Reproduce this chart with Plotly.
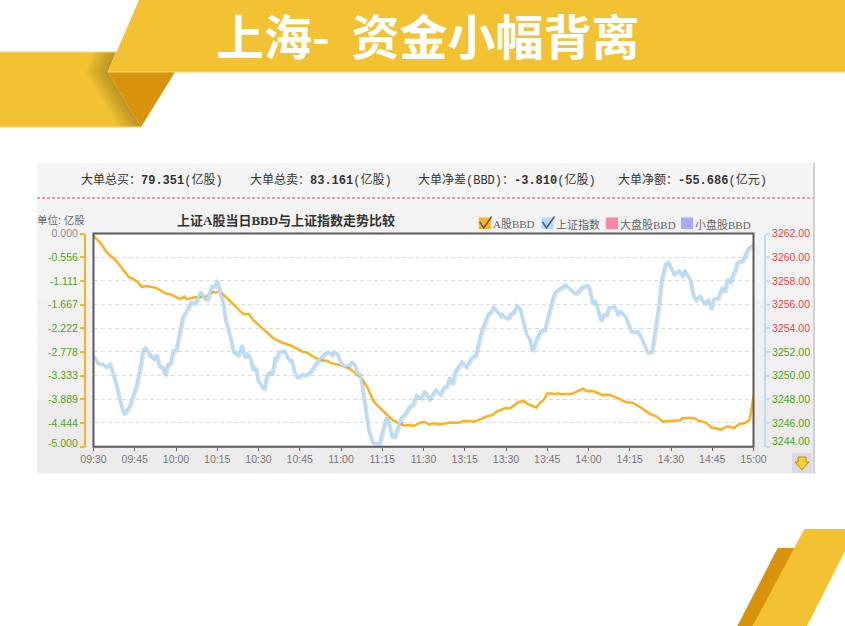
import plotly.graph_objects as go

W, H = 845, 626

# ---------- data ----------
x_tick_minutes = list(range(0, 241, 15))
x_tick_labels = ["09:30", "09:45", "10:00", "10:15", "10:30", "10:45", "11:00", "11:15", "11:30",
                 "13:15", "13:30", "13:45", "14:00", "14:15", "14:30", "14:45", "15:00"]
bbd_ticks = [0.0, -0.556, -1.111, -1.667, -2.222, -2.778, -3.333, -3.889, -4.444, -5.0]
index_ticks = [3262, 3260, 3258, 3256, 3254, 3252, 3250, 3248, 3246, 3244]

index_minutes = [0, 1.5, 3.5, 4.5, 6, 7.5, 8.5, 9.5, 11, 13, 14, 15.5, 17, 18, 19, 20.5, 21, 22, 23, 24, 25, 26, 27, 28,
                 29, 30, 31.5, 32.5, 34, 35.5, 37, 39, 40.5, 41.5, 43, 44, 45, 46, 47, 48, 49.5, 51, 51.5, 52.5, 54,
                 55, 56, 57, 58, 59, 59.7, 61, 62, 63, 64, 65, 66, 66.5, 67.5, 69.5, 71, 72, 73, 74, 75, 76, 77, 79,
                 80.5, 82.5, 84.5, 85.5, 86.5, 87.5, 88.5, 90, 91.5, 93, 94, 95, 96, 97, 98, 99, 100, 101.5, 102.5,
                 104, 105, 106.5, 107.5, 108.5, 109.5, 111, 112, 113, 115, 116, 117.5, 119, 120.5, 122, 124.5, 126,
                 127.5, 128.5, 129.5, 130.5, 131.5, 134, 135.5, 137.5, 139, 141, 142, 143.5, 144.5, 145.5, 146.5, 148,
                 148.5, 150, 151, 151.5, 152.5, 154, 155, 157, 157.5, 158.5, 159.5, 161, 162.5, 164, 165.5, 167, 168,
                 170, 171.5, 173, 175, 176, 177.5, 179, 180, 181.5, 182.5, 184.5, 185.5, 186.5, 187.5, 189.5, 190.5,
                 191.5, 193.5, 195.5, 198, 199.5, 201.5, 203, 204, 205.5, 206.5, 208, 209, 211, 213, 214, 215, 217,
                 218, 219, 220.5, 222, 223.5, 224.5, 225.5, 227, 228.5, 229.5, 230.5, 231.5, 232.5, 233.5, 234, 236,
                 238, 240]
index_values = [3251.73, 3251.03, 3250.97, 3250.72, 3250.97, 3249.79, 3249.05, 3247.93, 3246.75, 3247.36, 3248.07,
                3249.05, 3250.74, 3252.16, 3252.35, 3251.65, 3251.73, 3251.31, 3251.79, 3250.74, 3250.74, 3250.04,
                3250.95, 3251.03, 3252.10, 3252.16, 3253.85, 3254.97, 3255.54, 3256.19, 3256.10, 3257.08, 3256.44,
                3256.44, 3257.56, 3257.50, 3258.07, 3256.95, 3256.24, 3254.69, 3253.42, 3251.93, 3252.01, 3251.65,
                3252.58, 3251.54, 3251.82, 3251.45, 3250.47, 3250.69, 3249.62, 3249.20, 3248.83, 3249.96, 3250.27,
                3250.19, 3251.45, 3251.37, 3252.01, 3252.07, 3251.31, 3251.31, 3250.32, 3249.85, 3249.90, 3250.13,
                3250.02, 3250.32, 3250.89, 3251.45, 3251.93, 3251.99, 3251.73, 3252.01, 3251.88, 3251.03, 3250.80,
                3250.89, 3251.14, 3250.89, 3250.19, 3250.13, 3248.50, 3246.81, 3245.40, 3244.32, 3244.32, 3244.27,
                3245.25, 3246.47, 3245.90, 3244.83, 3244.83, 3245.82, 3246.47, 3246.66, 3247.42, 3247.51, 3248.35,
                3248.07, 3248.69, 3248.02, 3248.78, 3248.41, 3249.00, 3249.11, 3249.85, 3249.28, 3250.32, 3251.17,
                3250.74, 3251.51, 3251.73, 3253.70, 3254.27, 3255.20, 3255.39, 3255.81, 3255.48, 3255.03, 3255.20,
                3254.83, 3254.89, 3255.20, 3255.26, 3255.90, 3255.68, 3253.99, 3253.42, 3253.14, 3252.10, 3253.00,
                3253.76, 3253.85, 3255.26, 3256.52, 3257.08, 3257.37, 3257.65, 3257.37, 3256.95, 3257.00, 3257.45,
                3257.59, 3257.59, 3256.04, 3256.32, 3254.63, 3255.11, 3255.11, 3255.76, 3255.81, 3255.20, 3255.45,
                3254.97, 3253.70, 3253.70, 3253.00, 3251.96, 3252.01, 3253.70, 3255.81, 3258.07, 3259.40, 3259.57,
                3258.58, 3258.83, 3258.43, 3258.83, 3258.07, 3256.80, 3256.38, 3256.72, 3256.10, 3256.38, 3255.62,
                3256.47, 3256.52, 3257.37, 3257.08, 3258.16, 3257.84, 3258.55, 3258.97, 3259.53, 3259.70, 3260.69,
                3261.09]

bbd_minutes = [0, 2.5, 5, 8, 13, 14, 16, 17.5, 19.5, 23, 26, 28.5, 31.5, 33, 34, 36.5, 39, 40.5, 43, 46, 48, 51, 54.5,
               56.5, 58, 62, 65.5, 68.5, 71.5, 76, 77.5, 80.5, 83.5, 85, 86.5, 90, 93, 96, 97.5, 99.5, 102, 104, 106,
               108.5, 111, 113, 114.5, 116.5, 119, 120.5, 122, 124, 125.5, 129, 130, 132.5, 134.5, 138.5, 141, 143.5,
               145, 146.5, 149.5, 151.5, 154.5, 156.5, 158, 161, 162.5, 163.5, 165, 166.5, 168, 169, 170, 174, 177,
               178, 179.5, 182, 185, 187.5, 191, 193.5, 196, 199, 202.5, 204.5, 207, 209, 210.5, 213.5, 214, 218, 220,
               222.5, 225, 226, 228, 230.5, 233, 234.5, 236.5, 238.5, 239, 240]
bbd_values = [-0.06, -0.22, -0.46, -0.62, -1.03, -1.05, -1.13, -1.25, -1.23, -1.28, -1.40, -1.44, -1.54, -1.48, -1.54,
              -1.50, -1.48, -1.50, -1.38, -1.37, -1.48, -1.68, -1.89, -1.89, -2.02, -2.26, -2.46, -2.56, -2.62, -2.77,
              -2.79, -2.91, -2.98, -2.99, -3.04, -3.09, -3.16, -3.32, -3.40, -3.60, -3.95, -4.08, -4.21, -4.36, -4.45,
              -4.50, -4.49, -4.51, -4.43, -4.42, -4.48, -4.45, -4.48, -4.45, -4.43, -4.44, -4.40, -4.41, -4.34, -4.28,
              -4.26, -4.18, -4.10, -4.10, -3.95, -3.93, -4.00, -4.08, -3.96, -3.92, -3.75, -3.75, -3.77, -3.75, -3.77,
              -3.76, -3.67, -3.64, -3.70, -3.70, -3.79, -3.78, -3.87, -3.95, -3.97, -4.08, -4.24, -4.28, -4.41, -4.40,
              -4.38, -4.38, -4.33, -4.32, -4.39, -4.43, -4.56, -4.56, -4.60, -4.52, -4.56, -4.48, -4.45, -4.38, -4.22,
              -3.81]

summary_items = [("大单总买：", "79.351", "(亿股)"), ("大单总卖：", "83.161", "(亿股)"),
                 ("大单净差(BBD)：", "-3.810", "(亿股)"), ("大单净额：", "-55.686", "(亿元)")]
legend_names = ["A股BBD", "上证指数", "大盘股BBD", "小盘股BBD"]

# ---------- colours ----------
ORANGE = "#ffb11c"
BLUE = "#b6dcf6"
GOLD = "#f2c233"
DARK_GOLD = "#d9920c"
GREEN = "#4ea41e"
RED = "#f0454a"


def fx(p):
    return p / W


def fy(p):
    return 1 - p / H


def poly(points, fill, opacity=1.0, layer="below"):
    d = "M " + " L ".join(f"{fx(a):.5f},{fy(b):.5f}" for a, b in points) + " Z"
    return dict(type="path", xref="paper", yref="paper", path=d, fillcolor=fill,
                line=dict(width=0), opacity=opacity, layer=layer)


def rect(x0, y0, x1, y1, fill, layer="below", line=None):
    return dict(type="rect", xref="paper", yref="paper", x0=fx(x0), x1=fx(x1), y0=fy(y0), y1=fy(y1),
                fillcolor=fill, line=line or dict(width=0), layer=layer)


def seg(points, color, width, dash="solid", layer="below"):
    d = "M " + " L ".join(f"{fx(a):.5f},{fy(b):.5f}" for a, b in points)
    return dict(type="path", xref="paper", yref="paper", path=d, line=dict(color=color, width=width, dash=dash),
                layer=layer)


def label(x, y, text, size, color, family, anchor="left"):
    return dict(xref="paper", yref="paper", x=fx(x), y=fy(y), text=text, showarrow=False, xanchor=anchor,
                yanchor="middle", font=dict(size=size, color=color, family=family), borderpad=0, borderwidth=0)


shapes = []
# banner decorations
shapes.append(poly([(0, 52), (116, 52), (107.8, 72), (141, 127), (0, 127)], GOLD))
for k in range(22, 0, -2):
    shapes.append(poly([(116 - k, 52), (116, 52), (107.8, 72), (141, 127), (141 - k, 127), (107.8 - k, 72)],
                       "#7d5f15", 0.045))
shapes.append(seg([(0, 52), (116, 52)], "#f6d873", 1))
shapes.append(seg([(0, 127), (141, 127)], "#f6d873", 1))
shapes.append(poly([(107.8, 72), (175, 72), (141, 127)], DARK_GOLD))
shapes.append(poly([(139, 0), (845, 0), (845, 72), (107.8, 72)], GOLD))
shapes.append(seg([(107.8, 72), (845, 72)], "#f6d873", 1))
shapes.append(poly([(777.7, 548), (800, 548), (752.7, 626), (737.3, 626)], DARK_GOLD))
shapes.append(poly([(804.3, 529), (845, 529), (845, 551), (807, 626), (752.7, 626)], GOLD))

# chart panel
for y0, y1, c in ((163, 200, "#f5f5f5"), (200, 300, "#f4f3f4"), (300, 400, "#f1eff0"), (400, 473.5, "#eeebed")):
    shapes.append(rect(37, y0, 813, y1, c))
shapes.append(rect(813, 163, 815, 473.5, "#d0d0d0"))
shapes.append(seg([(37, 198), (813, 198)], "#d84a50", 1, dash="3px,2px"))
shapes.append(rect(93.5, 233.5, 753.5, 446.7, "white"))
shapes.append(rect(93.5, 233.5, 753.5, 446.7, "rgba(0,0,0,0)", layer="above", line=dict(color="#5a5a5a", width=2)))

# legend swatches
legend_x = [478.7, 541.5, 606, 681]
legend_c = [ORANGE, "#aedcff", "#ff85a8", "#a9a9ff"]
for x0, c in zip(legend_x, legend_c):
    shapes.append(rect(x0, 217.5, x0 + 12, 229, c))
for x0 in legend_x[:2]:
    shapes.append(seg([(x0 + 1, 222), (x0 + 5, 228), (x0 + 13, 216.5)], "#555555", 1.4))

# download button
shapes.append(rect(792, 453, 812, 473, "#dcdcdc"))
shapes.append(poly([(798, 457), (806, 457), (806, 462), (809, 462), (802, 470), (795, 462), (798, 462)],
                   "#f7cf2e", layer="above"))
shapes.append(seg([(798, 457), (806, 457), (806, 462), (809, 462), (802, 470), (795, 462), (798, 462), (798, 457)],
                  "#b98a14", 1, layer="above"))

annotations = [label(216, 34, "<b>上海-&nbsp;&nbsp;资金小幅背离</b>", 48, "white", "Noto Sans CJK SC")]
SERIF = "Liberation Mono, Noto Sans CJK SC"
for x0, (a, b, c) in zip((81, 249.5, 418, 618), summary_items):
    annotations.append(label(x0, 180, f"{a}<b>{b}</b>{c}", 12, "#333333", SERIF))
annotations.append(label(286, 220, "<b>上证A股当日BBD与上证指数走势比较</b>", 13, "#333333",
                         "Liberation Serif, Noto Sans CJK SC", "center"))
annotations.append(label(37, 219.5, "单位: 亿股", 10.5, "#666666", "Liberation Sans, Noto Sans CJK SC"))
for x0, name in zip((493, 556, 620, 695), legend_names):
    annotations.append(label(x0, 224, name, 11, "#666666", "Liberation Serif, Noto Sans CJK SC"))
annotations.append(label(77.5, 443, "-5.000", 10.5, GREEN, "Liberation Sans", "right"))
annotations.append(label(772, 441, "3244.00", 10.5, GREEN, "Liberation Sans"))

left_text = []
for v in bbd_ticks:
    if v == -5.0:
        left_text.append(" ")
    elif v == 0:
        left_text.append('<span style="color:#8c8c8c">0.000</span>')
    else:
        left_text.append(f'<span style="color:{GREEN}">{v:.3f}</span>')
right_text = []
for v in index_ticks:
    if v == 3244:
        right_text.append(" ")
    else:
        right_text.append(f'<span style="color:{RED if v > 3252 else GREEN}">{v}.00</span>')

fig = go.Figure()
fig.add_trace(go.Scatter(x=[m + 0.5 for m in index_minutes], y=[v - 0.1 for v in index_values], yaxis="y2", mode="lines",
                         line=dict(color="rgba(120,120,120,0.22)", width=3), showlegend=False, hoverinfo="skip"))
fig.add_trace(go.Scatter(x=index_minutes, y=index_values, yaxis="y2", mode="lines", name="上证指数",
                         line=dict(color=BLUE, width=3), showlegend=False))
fig.add_trace(go.Scatter(x=bbd_minutes, y=bbd_values, yaxis="y", mode="lines", name="A股BBD",
                         line=dict(color=ORANGE, width=2.5), showlegend=False))

fig.update_layout(
    width=W, height=H, autosize=False, margin=dict(l=0, r=0, t=0, b=0, pad=0, autoexpand=False),
    paper_bgcolor="white", plot_bgcolor="white", showlegend=False,
    font=dict(family="Liberation Sans, Noto Sans CJK SC"),
    shapes=shapes, annotations=annotations,
    xaxis=dict(domain=[fx(93.5), fx(753.5)], range=[0, 240], tickmode="array", tickvals=x_tick_minutes,
               ticktext=x_tick_labels, ticks="outside", ticklen=3, tickcolor="#666666", tickwidth=1,
               tickfont=dict(size=10.5, color="#777777"), showgrid=False, zeroline=False, showline=False,
               anchor="y"),
    yaxis=dict(domain=[fy(446.7), fy(233.5)], range=[-5, 0], tickmode="array", tickvals=bbd_ticks,
               ticktext=left_text, anchor="free", position=fx(85), side="left", showline=True, linecolor=ORANGE,
               linewidth=2, ticks="outside", ticklen=4, tickcolor=ORANGE, tickwidth=1.5,
               tickfont=dict(size=10.5), showgrid=True, gridcolor="#dcdcdc", griddash="4px,3px", gridwidth=1,
               zeroline=False),
    yaxis2=dict(domain=[fy(446.7), fy(233.5)], range=[3244, 3262], tickmode="array", tickvals=index_ticks,
                ticktext=right_text, anchor="free", position=fx(765), side="right", overlaying="y", showline=True,
                linecolor="#b6dff9", linewidth=2, ticks="outside", ticklen=4, tickcolor="#b6dff9", tickwidth=1.5,
                tickfont=dict(size=10.5), showgrid=False, zeroline=False),
)

fig.write_html("out.html", config={"displayModeBar": False}, post_script="document.body.style.margin='0';")
